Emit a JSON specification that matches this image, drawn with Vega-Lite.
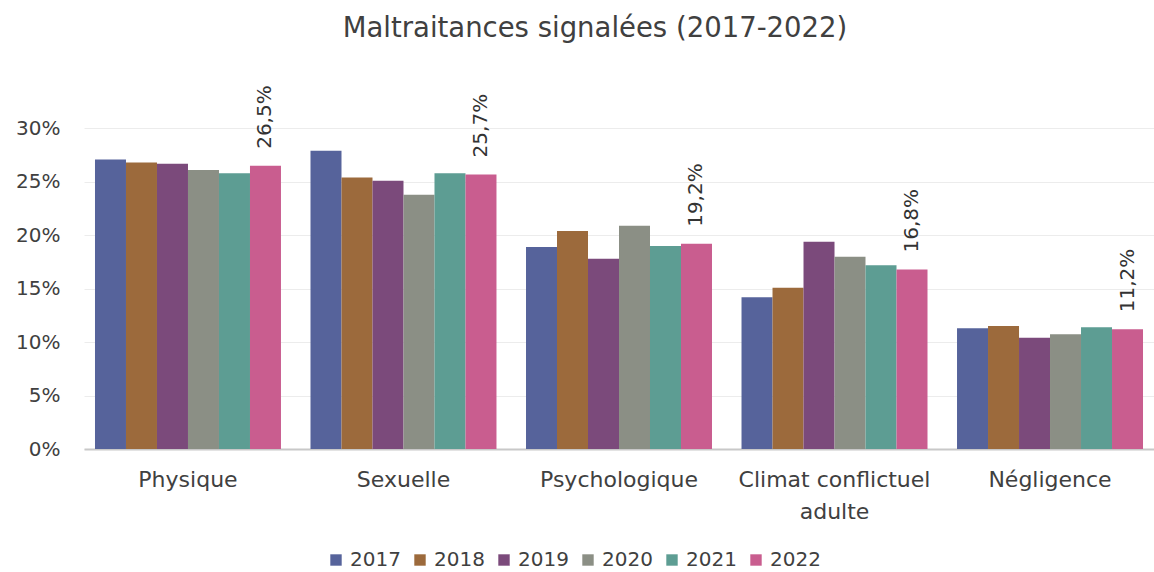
{
  "$schema": "https://vega.github.io/schema/vega-lite/v6.json",
  "width": 1070,
  "height": 374,
  "autosize": {"type": "none"},
  "padding": {"left": 84, "top": 75, "right": 0, "bottom": 123},
  "background": "white",
  "title": {
    "text": "Maltraitances signalées (2017-2022)",
    "font": "DejaVu Sans",
    "fontSize": 27.5,
    "fontWeight": "normal",
    "color": "#404040",
    "anchor": "middle",
    "dx": -24,
    "offset": 33
  },
  "data": {
    "values": [
      {"categorie": "Physique", "annee": "2017", "valeur": 0.271},
      {"categorie": "Physique", "annee": "2018", "valeur": 0.268},
      {"categorie": "Physique", "annee": "2019", "valeur": 0.267},
      {"categorie": "Physique", "annee": "2020", "valeur": 0.261},
      {"categorie": "Physique", "annee": "2021", "valeur": 0.258},
      {"categorie": "Physique", "annee": "2022", "valeur": 0.265},
      {"categorie": "Sexuelle", "annee": "2017", "valeur": 0.279},
      {"categorie": "Sexuelle", "annee": "2018", "valeur": 0.254},
      {"categorie": "Sexuelle", "annee": "2019", "valeur": 0.251},
      {"categorie": "Sexuelle", "annee": "2020", "valeur": 0.238},
      {"categorie": "Sexuelle", "annee": "2021", "valeur": 0.258},
      {"categorie": "Sexuelle", "annee": "2022", "valeur": 0.257},
      {"categorie": "Psychologique", "annee": "2017", "valeur": 0.189},
      {"categorie": "Psychologique", "annee": "2018", "valeur": 0.204},
      {"categorie": "Psychologique", "annee": "2019", "valeur": 0.178},
      {"categorie": "Psychologique", "annee": "2020", "valeur": 0.209},
      {"categorie": "Psychologique", "annee": "2021", "valeur": 0.190},
      {"categorie": "Psychologique", "annee": "2022", "valeur": 0.192},
      {"categorie": "Climat conflictuel adulte", "annee": "2017", "valeur": 0.142},
      {"categorie": "Climat conflictuel adulte", "annee": "2018", "valeur": 0.151},
      {"categorie": "Climat conflictuel adulte", "annee": "2019", "valeur": 0.194},
      {"categorie": "Climat conflictuel adulte", "annee": "2020", "valeur": 0.180},
      {"categorie": "Climat conflictuel adulte", "annee": "2021", "valeur": 0.172},
      {"categorie": "Climat conflictuel adulte", "annee": "2022", "valeur": 0.168},
      {"categorie": "Négligence", "annee": "2017", "valeur": 0.113},
      {"categorie": "Négligence", "annee": "2018", "valeur": 0.115},
      {"categorie": "Négligence", "annee": "2019", "valeur": 0.104},
      {"categorie": "Négligence", "annee": "2020", "valeur": 0.1075},
      {"categorie": "Négligence", "annee": "2021", "valeur": 0.114},
      {"categorie": "Négligence", "annee": "2022", "valeur": 0.112}
    ]
  },
  "encoding": {
    "x": {
      "field": "categorie",
      "type": "nominal",
      "sort": ["Physique", "Sexuelle", "Psychologique", "Climat conflictuel adulte", "Négligence"],
      "scale": {"paddingInner": 0.137, "paddingOuter": 0.051},
      "axis": {
        "title": null,
        "labelAngle": 0,
        "labelFont": "DejaVu Sans",
        "labelFontSize": 22,
        "labelColor": "#404040",
        "labelPadding": 20,
        "labelLineHeight": 32,
        "labelLimit": 400,
        "labelBaseline": "top",
        "labelExpr": "datum.value == 'Climat conflictuel adulte' ? ['Climat conflictuel', 'adulte'] : datum.value",
        "ticks": false,
        "domainColor": "#c8c8c8",
        "domainWidth": 2,
        "grid": false
      }
    },
    "y": {
      "field": "valeur",
      "type": "quantitative",
      "scale": {"domain": [0, 0.35]},
      "axis": {
        "title": null,
        "format": ".0%",
        "values": [0, 0.05, 0.1, 0.15, 0.2, 0.25, 0.3],
        "labelFont": "DejaVu Sans",
        "labelFontSize": 20,
        "labelColor": "#404040",
        "labelPadding": 24,
        "ticks": false,
        "domain": false,
        "grid": true,
        "gridColor": "#ececec",
        "gridWidth": 1
      }
    },
    "xOffset": {"field": "annee", "type": "nominal", "scale": {"paddingInner": 0, "paddingOuter": 0}}
  },
  "layer": [
    {
      "mark": {"type": "bar"},
      "encoding": {
        "color": {
          "field": "annee",
          "type": "nominal",
          "scale": {
            "domain": ["2017", "2018", "2019", "2020", "2021", "2022"],
            "range": ["#56639b", "#9c6a3c", "#7b4a7b", "#8b8f85", "#5d9d93", "#c95d8f"]
          },
          "legend": {
            "title": null,
            "orient": "none",
            "direction": "horizontal",
            "legendX": 242,
            "legendY": 475,
            "symbolType": "square",
            "symbolSize": 130,
            "symbolStrokeWidth": 0,
            "labelFont": "DejaVu Sans",
            "labelFontSize": 20,
            "labelColor": "#404040",
            "labelOffset": 4,
            "columnPadding": 9,
            "padding": 0
          }
        }
      }
    },
    {
      "transform": [{"filter": "datum.annee == '2022'"}],
      "mark": {
        "type": "text",
        "angle": 270,
        "align": "left",
        "baseline": "middle",
        "dx": 17,
        "font": "DejaVu Sans",
        "fontSize": 20,
        "color": "#333333"
      },
      "encoding": {
        "text": {"field": "valeur", "type": "quantitative", "format": ".1%"}
      }
    }
  ],
  "config": {
    "view": {"stroke": null},
    "locale": {
      "number": {"decimal": ",", "thousands": " ", "grouping": [3], "currency": ["", " €"], "percent": "%"}
    }
  }
}
